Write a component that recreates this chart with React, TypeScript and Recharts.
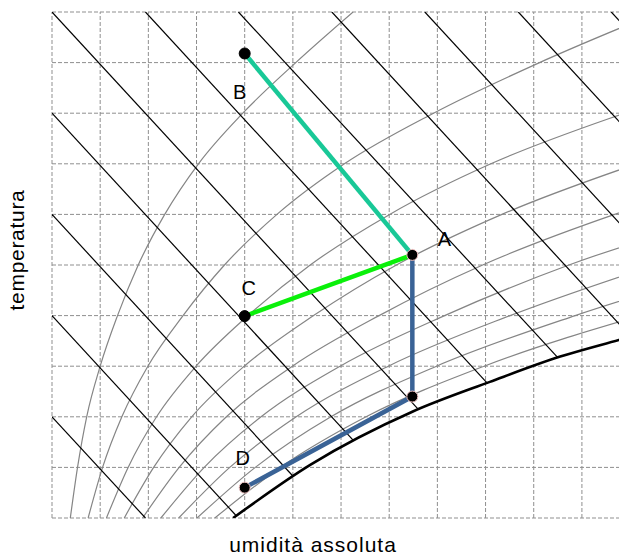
import React from 'react';
import { ComposedChart, Line, Scatter, XAxis, YAxis, ReferenceLine } from 'recharts';

// grid (absolute humidity on x, temperature on y, in grid steps)
const humidityTicks = [0, 1, 2, 3, 4, 5, 6, 7, 8, 9, 10, 11];
const temperatureTicks = [0, 1, 2, 3, 4, 5, 6, 7, 8, 9, 10];

// relative humidity curves: x read at each temperature step
const rhLevels = [0, 1, 2, 3, 4, 5, 6, 7, 8, 9, 10];
const rh10 = [0.38, 0.53, 0.72, 1.0, 1.36, 1.79, 2.34, 3.04, 3.96, 5.06, 6.25];
const rh20 = [0.75, 1.05, 1.45, 1.99, 2.72, 3.58, 4.67, 6.07, 7.92, 10.12, 12.6];
const rh30 = [1.13, 1.58, 2.17, 2.99, 4.07, 5.36, 7.01, 9.11, 11.88, 15.18];
const rh40 = [1.5, 2.11, 2.9, 3.99, 5.43, 7.15, 9.34, 12.14];
const rh50 = [1.88, 2.64, 3.62, 4.99, 6.79, 8.94, 11.68, 15.18];
const rh60 = [2.26, 3.16, 4.34, 5.98, 8.15, 10.73, 14.02];
const rh70 = [2.63, 3.69, 5.07, 6.98, 9.51, 12.52];
const rh80 = [3.01, 4.22, 5.79, 7.98, 10.86, 14.3];
const rh90 = [3.38, 4.74, 6.52, 8.97, 12.22];

// saturation curve
const saturationX = [3.76, 5.36, 7.48, 9.09, 10.55, 11.77, 13.58];
const saturationY = [0, 1.05, 2.1, 2.69, 3.19, 3.52, 4];

// constant enthalpy lines (start on top/left edge, end on saturation)
const enthalpyStartX = [0, 0, 0, 0, 0, 1.94, 3.87, 5.81, 7.74, 9.68, 11.61];
const enthalpyStartY = [2, 4, 6, 8, 10, 10, 10, 10, 10, 10, 10];
const enthalpyEndX = [1.94, 3.82, 4.99, 6.25, 7.6, 9.03, 10.5, 12.0, 13.5, 15.0, 16.6];
const enthalpyEndY = [0, 0.05, 0.84, 1.54, 2.15, 2.67, 3.17, 3.6, 4.05, 4.5, 4.85];

// air states
const stateNames = ['A', 'B', 'C', 'D', 'E'];
const stateLabels = ['A', 'B', 'C', 'D', ''];
const stateX = [7.48, 4.0, 4.0, 4.0, 7.48];
const stateY = [5.2, 9.18, 3.99, 0.6, 2.4];

const pathBA = ['B', 'A'];
const pathCA = ['C', 'A'];
const pathAED = ['A', 'E', 'D'];

const rhCurves = [rh10, rh20, rh30, rh40, rh50, rh60, rh70, rh80, rh90];

const FONT = '"Liberation Sans", Arial, Helvetica, sans-serif';
const GRID = '#8f8f8f';

const statePoint = (name: string) => {
  const i = stateNames.indexOf(name);
  return { x: stateX[i], y: stateY[i] };
};

const labelOffsets: Record<string, [number, number]> = {
  A: [32, -9],
  B: [-5, 46],
  C: [4, -21],
  D: [-2, -23],
};
const outlined = ['A', 'D', 'E'];

function StateDot(props: any) {
  const { cx, cy } = props;
  const p = props.payload || props;
  const off = labelOffsets[p.label];
  return (
    <g>
      <circle
        cx={cx}
        cy={cy}
        r={5.5}
        fill="#000"
        stroke={outlined.includes(p.name) ? '#f0c2c2' : '#000'}
        strokeWidth={1}
      />
      {off && (
        <text x={cx + off[0]} y={cy + off[1]} textAnchor="middle" fontSize={20} fontFamily={FONT} fill="#000">
          {p.label}
        </text>
      )}
    </g>
  );
}

export default function App() {
  const rhData = rhCurves.map((xs) => xs.map((x, i) => ({ x, y: rhLevels[i] })));
  const saturation = saturationX.map((x, i) => ({ x, y: saturationY[i] }));
  const enthalpy = enthalpyStartX.map((x, i) => [
    { x, y: enthalpyStartY[i] },
    { x: enthalpyEndX[i], y: enthalpyEndY[i] },
  ]);
  const states = stateNames.map((name, i) => ({ name, label: stateLabels[i], x: stateX[i], y: stateY[i] }));

  return (
    <div style={{ position: 'absolute', left: 0, top: 0, width: 619, height: 555, overflow: 'hidden', background: '#fff' }}>
      <ComposedChart width={619} height={555} margin={{ top: 12, right: 0, bottom: 37, left: 52 }}>
        <XAxis
          type="number"
          dataKey="x"
          domain={[0, 11.77]}
          ticks={humidityTicks}
          allowDataOverflow
          height={0}
          tick={false}
          axisLine={false}
          tickLine={false}
        />
        <YAxis
          type="number"
          dataKey="y"
          domain={[0, 10]}
          ticks={temperatureTicks}
          allowDataOverflow
          width={0}
          tick={false}
          axisLine={false}
          tickLine={false}
        />
        {humidityTicks.map((t) => (
          <ReferenceLine key={`vx${t}`} x={t} stroke={GRID} strokeDasharray="4 2" strokeWidth={1} />
        ))}
        {temperatureTicks.map((t) => (
          <ReferenceLine key={`hy${t}`} y={t} stroke={GRID} strokeDasharray="4 2" strokeWidth={1} />
        ))}
        {rhData.map((d, i) => (
          <Line
            key={`rh${i}`}
            data={d}
            dataKey="y"
            type="monotone"
            stroke="#858585"
            strokeWidth={1.2}
            dot={false}
            activeDot={false}
            isAnimationActive={false}
          />
        ))}
        {enthalpy.map((d, i) => (
          <Line
            key={`h${i}`}
            data={d}
            dataKey="y"
            type="linear"
            stroke="#000"
            strokeWidth={1.2}
            dot={false}
            activeDot={false}
            isAnimationActive={false}
          />
        ))}
        <Line
          data={saturation}
          dataKey="y"
          type="monotone"
          stroke="#000"
          strokeWidth={2.6}
          dot={false}
          activeDot={false}
          isAnimationActive={false}
        />
        <Line
          data={pathBA.map(statePoint)}
          dataKey="y"
          type="linear"
          stroke="#19c897"
          strokeWidth={4.5}
          dot={false}
          activeDot={false}
          isAnimationActive={false}
        />
        <Line
          data={pathAED.map(statePoint)}
          dataKey="y"
          type="linear"
          stroke="#3a6396"
          strokeWidth={4.5}
          dot={false}
          activeDot={false}
          isAnimationActive={false}
        />
        <Line
          data={pathCA.map(statePoint)}
          dataKey="y"
          type="linear"
          stroke="#0af00a"
          strokeWidth={4.5}
          dot={false}
          activeDot={false}
          isAnimationActive={false}
        />
        <Scatter data={states} dataKey="y" shape={StateDot} isAnimationActive={false} />
      </ComposedChart>
      <svg width={619} height={555} style={{ position: 'absolute', left: 0, top: 0, pointerEvents: 'none' }}>
        <text
          transform="translate(24,250) rotate(-90)"
          textAnchor="middle"
          fontSize={21}
          letterSpacing={0.7}
          fontFamily={FONT}
          fill="#000"
        >
          temperatura
        </text>
        <text x={313} y={552} textAnchor="middle" fontSize={21} letterSpacing={1} fontFamily={FONT} fill="#000">
          umidità assoluta
        </text>
      </svg>
    </div>
  );
}
